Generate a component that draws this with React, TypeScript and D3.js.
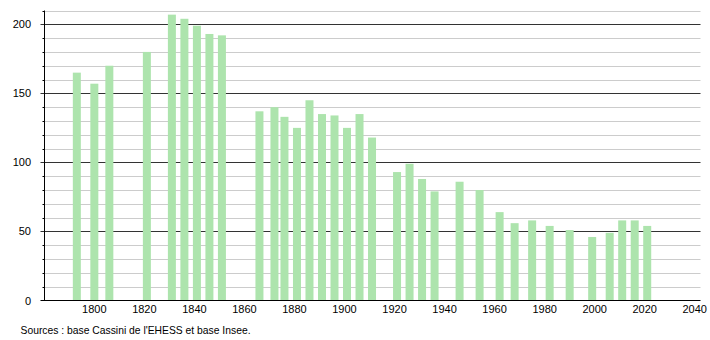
import React from "react";
import * as d3 from "d3";

const years = [1793, 1800, 1806, 1821, 1831, 1836, 1841, 1846, 1851, 1866, 1872, 1876, 1881, 1886, 1891, 1896, 1901, 1906, 1911, 1921, 1926, 1931, 1936, 1946, 1954, 1962, 1968, 1975, 1982, 1990, 1999, 2006, 2011, 2016, 2021];
const population = [165, 157, 170, 180, 207, 204, 199, 193, 192, 137, 140, 133, 125, 145, 135, 134, 125, 135, 118, 93, 99, 88, 79, 86, 80, 64, 56, 58, 54, 51, 46, 49, 58, 58, 54];
const xTicks = [1800, 1820, 1840, 1860, 1880, 1900, 1920, 1940, 1960, 1980, 2000, 2020, 2040];
const yMajorTicks = [0, 50, 100, 150, 200];
const yMinorTicks = d3.range(10, 211, 10);
const sourceText = "Sources : base Cassini de l'EHESS et base Insee.";

const W = 710;
const H = 340;
const left = 44.5;
const right = 700.5;
const bottom = 300.5;
const top = 10.5;

export default function App() {
  const x = d3.scaleLinear().domain([1780, 2042.3]).range([left - 0.2, right]);
  const y = d3.scaleLinear().domain([0, 210]).range([bottom, top]);
  const bw = 8;
  const font = "'Liberation Sans', Arial, sans-serif";
  return (
    <svg width={W} height={H} style={{ position: "absolute", left: 0, top: 0, background: "#fff" }}>
      {yMinorTicks.filter((v) => v % 50 !== 0).map((v) => (
        <g key={"m" + v}>
          <line x1={left} x2={right} y1={Math.round(y(v)) + 0.5} y2={Math.round(y(v)) + 0.5} stroke="#cccccc" strokeWidth={1} />
          <line x1={left - 2} x2={left} y1={Math.round(y(v)) + 0.5} y2={Math.round(y(v)) + 0.5} stroke="#000" strokeWidth={1} />
        </g>
      ))}
      {yMajorTicks.filter((v) => v > 0).map((v) => (
        <line key={"M" + v} x1={left - 4} x2={right} y1={Math.round(y(v)) + 0.5} y2={Math.round(y(v)) + 0.5} stroke="#333" strokeWidth={1} />
      ))}
      {years.map((yr, i) => (
        <rect key={yr} x={x(yr) - bw / 2} y={y(population[i])} width={bw} height={bottom - y(population[i])} fill="#ade4ad" />
      ))}
      <line x1={left} x2={left} y1={top} y2={bottom} stroke="#000" strokeWidth={1} />
      <line x1={left - 4} x2={right} y1={bottom} y2={bottom} stroke="#000" strokeWidth={1} />
      {yMajorTicks.map((v) => (
        <text key={"yl" + v} x={31} y={y(v) + 4} textAnchor="end" fontSize={11} fontFamily={font} fill="#000">{v}</text>
      ))}
      {xTicks.map((t) => (
        <text key={"xl" + t} x={x(t)} y={313} textAnchor="middle" fontSize={11} fontFamily={font} fill="#000">{t}</text>
      ))}
      <text x={20.5} y={334} fontSize={11} fontFamily={font} fill="#000" textLength={230} lengthAdjust="spacingAndGlyphs">{sourceText}</text>
    </svg>
  );
}
